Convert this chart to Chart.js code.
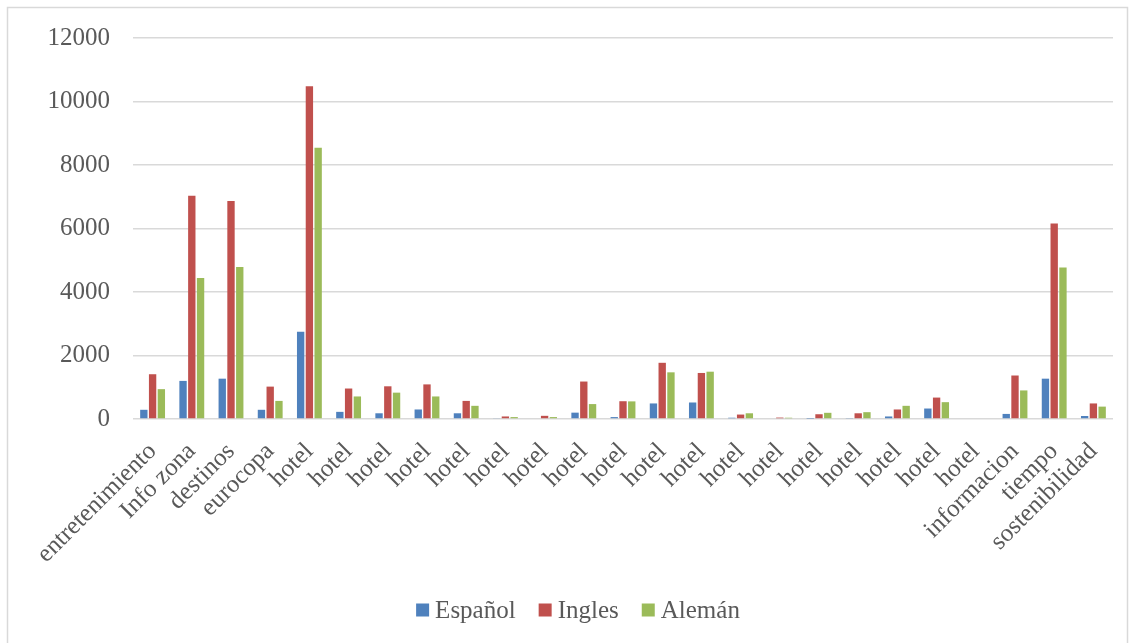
<!DOCTYPE html>
<html>
<head>
<meta charset="utf-8">
<script src="https://cdn.jsdelivr.net/npm/chart.js@4/dist/chart.umd.min.js"></script>
<style>
  html, body { margin: 0; padding: 0; background: #ffffff; }
  #wrap { width: 1134px; height: 643px; position: relative; }
</style>
</head>
<body>
<div id="wrap"><canvas id="c" width="1134" height="643"></canvas></div>
<script>
// Categories along the x axis
const categories = [
  'entretenimiento', 'Info zona', 'destinos', 'eurocopa',
  'hotel', 'hotel', 'hotel', 'hotel', 'hotel', 'hotel', 'hotel', 'hotel', 'hotel',
  'hotel', 'hotel', 'hotel', 'hotel', 'hotel', 'hotel', 'hotel', 'hotel', 'hotel',
  'informacion', 'tiempo', 'sostenibilidad'
];

// Series values, one per category
const espanol = [290, 1200, 1270, 290, 2750, 225, 180, 300, 180, 20, 0, 200, 60, 490, 520, 40, 0, 10, 30, 80, 330, 0, 160, 1270, 95];
const ingles  = [1410, 7030, 6870, 1020, 10480, 960, 1030, 1090, 570, 80, 100, 1180, 560, 1770, 1450, 140, 45, 150, 180, 300, 675, 0, 1370, 6160, 490];
const aleman  = [940, 4440, 4790, 570, 8540, 710, 830, 710, 415, 60, 60, 470, 555, 1470, 1490, 180, 40, 195, 215, 415, 530, 0, 900, 4770, 390];

// Value axis tick labels
const yTicks = [0, 2000, 4000, 6000, 8000, 10000, 12000];

const seriesNames = ['Español', 'Ingles', 'Alemán'];
const seriesColors = ['#4F81BD', '#C0504D', '#9BBB59'];

const FONT = '"Liberation Serif", "DejaVu Serif", serif';
const TEXT = '#595959';
const GRID = '#d9d9d9';

// Thin frame around the whole chart area
const framePlugin = {
  id: 'frame',
  afterDraw(chart) {
    const ctx = chart.ctx;
    ctx.save();
    ctx.strokeStyle = GRID;
    ctx.lineWidth = 1.5;
    ctx.beginPath();
    ctx.moveTo(7.5, 650);
    ctx.lineTo(7.5, 7.5);
    ctx.lineTo(1127.5, 7.5);
    ctx.lineTo(1127.5, 650);
    ctx.stroke();
    ctx.restore();
  }
};

// Compact legend row under the axis: square swatch, short gap, label
const legendRowPlugin = {
  id: 'legendRow',
  afterDraw(chart) {
    const ctx = chart.ctx;
    const box = 13, gap = 6, spacing = 23, centerX = 578, centerY = 610;
    ctx.save();
    ctx.font = '25px ' + FONT;
    ctx.textBaseline = 'middle';
    ctx.textAlign = 'left';
    const items = chart.data.datasets.map(ds => ({
      label: ds.label,
      color: ds.backgroundColor,
      w: ctx.measureText(ds.label).width
    }));
    const total = items.reduce((s, it) => s + box + gap + it.w, 0) + spacing * (items.length - 1);
    let x = centerX - total / 2;
    items.forEach(it => {
      ctx.fillStyle = it.color;
      ctx.fillRect(x, centerY - box / 2, box, box);
      ctx.fillStyle = TEXT;
      ctx.fillText(it.label, x + box + gap, centerY + 1);
      x += box + gap + it.w + spacing;
    });
    ctx.restore();
  }
};

const seriesData = [espanol, ingles, aleman];

new Chart(document.getElementById('c'), {
  type: 'bar',
  data: {
    labels: categories,
    datasets: seriesNames.map((name, i) => ({
      label: name,
      data: seriesData[i],
      backgroundColor: seriesColors[i],
      borderWidth: 0,
      barPercentage: 0.84,
      categoryPercentage: 0.67
    }))
  },
  options: {
    responsive: false,
    animation: false,
    devicePixelRatio: 1,
    layout: { padding: { left: 8, right: 21, top: 37, bottom: 55 } },
    plugins: {
      legend: { display: false },
      tooltip: { enabled: false }
    },
    scales: {
      x: {
        grid: { display: false, drawTicks: false },
        border: { display: false },
        ticks: {
          autoSkip: false,
          minRotation: 45,
          maxRotation: 45,
          padding: 18,
          color: TEXT,
          font: { family: FONT, size: 25 }
        },
        afterFit(scale) { scale.height = 169; }
      },
      y: {
        min: 0,
        max: 12000,
        afterBuildTicks(scale) { scale.ticks = yTicks.map(v => ({ value: v })); },
        grid: { color: GRID, lineWidth: 1.5, drawTicks: false },
        border: { display: false },
        ticks: {
          padding: 23,
          color: TEXT,
          font: { family: FONT, size: 25 },
          callback: v => String(v)
        },
        afterFit(scale) { scale.width = 125; }
      }
    }
  },
  plugins: [framePlugin, legendRowPlugin]
});
</script>
</body>
</html>
